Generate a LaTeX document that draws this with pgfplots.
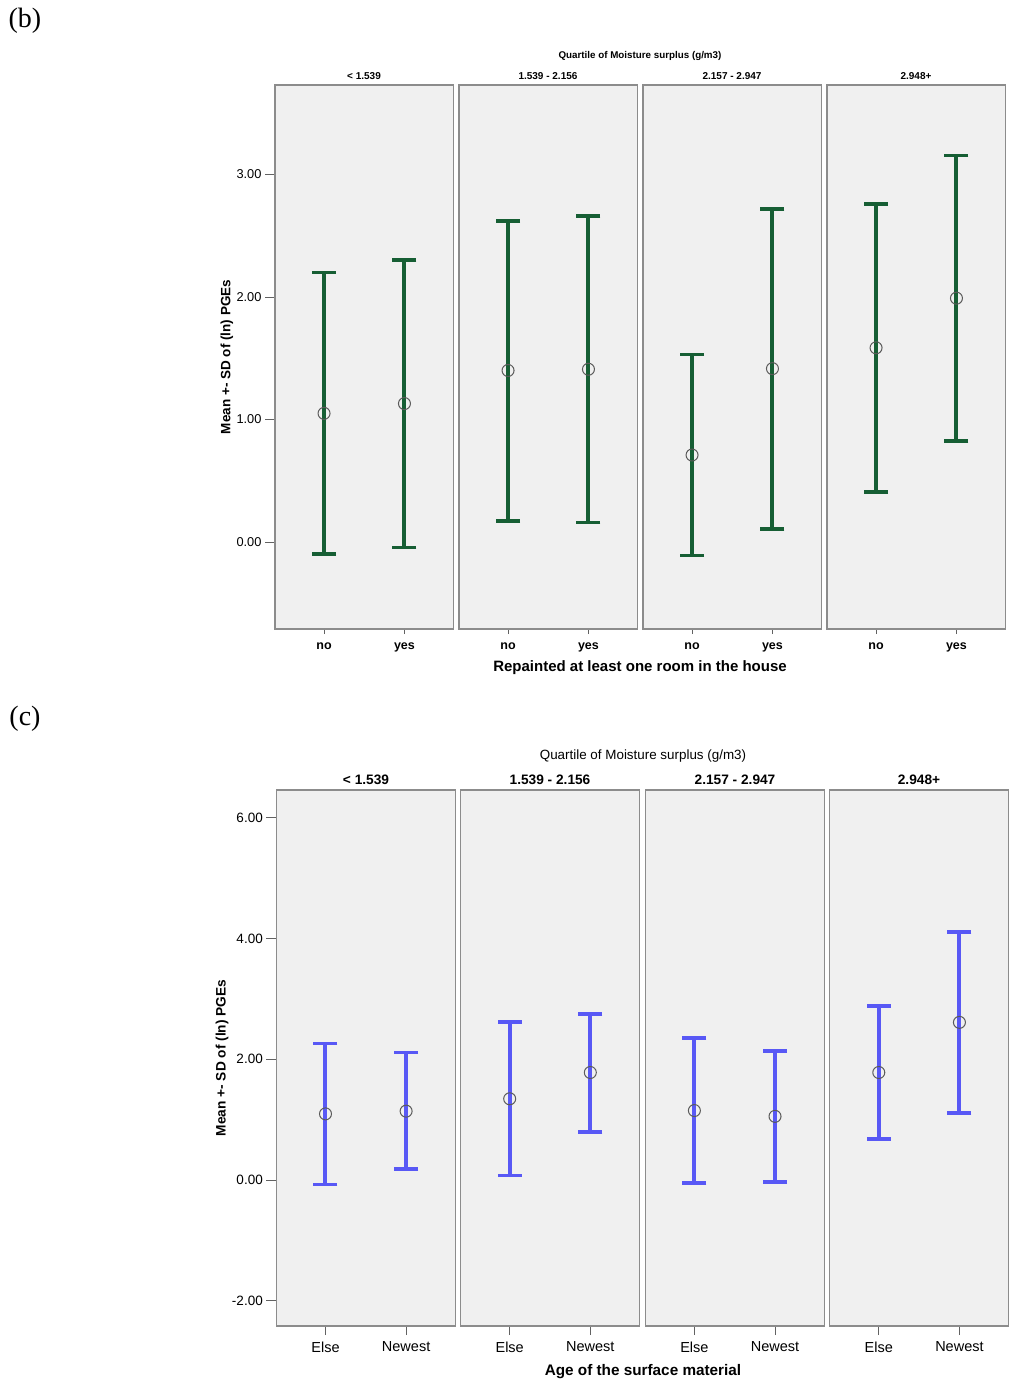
\documentclass[border=0pt]{standalone}
\usepackage{pgfplots}
\pgfplotsset{compat=1.18}
\usepackage{pgfplotstable}
\usepackage{fontspec}
\setmainfont{Liberation Sans}
\newfontfamily\seriffont{Liberation Serif}
\definecolor{gc}{RGB}{22,94,52}
\definecolor{bc}{RGB}{88,88,245}
\definecolor{bgc}{RGB}{240,240,240}
\definecolor{fc}{RGB}{140,140,140}
\definecolor{cc}{RGB}{90,90,90}

% panel (b): x mean lower upper
\pgfplotstableread{
x y lo hi
0 1.05 -0.097 2.20
1 1.13 -0.045 2.30
}\bA
\pgfplotstableread{
x y lo hi
0 1.40 0.17 2.62
1 1.41 0.16 2.66
}\bB
\pgfplotstableread{
x y lo hi
0 0.71 -0.11 1.53
1 1.415 0.106 2.72
}\bC
\pgfplotstableread{
x y lo hi
0 1.585 0.41 2.76
1 1.99 0.826 3.155
}\bD
% panel (c)
\pgfplotstableread{
x y lo hi
0 1.095 -0.074 2.26
1 1.14 0.18 2.11
}\cA
\pgfplotstableread{
x y lo hi
0 1.345 0.074 2.61
1 1.78 0.80 2.75
}\cB
\pgfplotstableread{
x y lo hi
0 1.15 -0.054 2.35
1 1.054 -0.034 2.14
}\cC
\pgfplotstableread{
x y lo hi
0 1.78 0.68 2.88
1 2.61 1.11 4.11
}\cD

\pgfplotsset{
  facet/.style={scale only axis, xmin=-0.61, xmax=1.61, xtick={0,1},
    axis background/.style={fill=bgc},
    axis line style={draw=fc, line width=1.3pt},
    tick align=outside, xtick pos=bottom, ytick pos=left,
    tick style={draw=fc!70!black, line width=0.9pt},
    major tick length=10pt, clip=false,
    yticklabel style={/pgf/number format/fixed, /pgf/number format/fixed zerofill,
      /pgf/number format/precision=2, /pgf/number format/assume math mode=true}},
  facetb/.style={facet, width=178.5pt, height=544pt, ymin=-0.71, ymax=3.73,
    xticklabels={no,yes},
    x tick label style={font=\bfseries\fontsize{12.5}{14}\selectfont},
    y tick label style={font=\fontsize{12.8}{14}\selectfont},
    xtick style={/pgfplots/major tick length=5pt}},
  facetc/.style={facet, width=179pt, height=536pt, ymin=-2.417, ymax=6.457,
    xticklabels={Else,Newest},
    x tick label style={font=\fontsize{14.5}{16}\selectfont, yshift=-2pt},
    y tick label style={font=\fontsize{13.5}{15}\selectfont},
    xtick style={/pgfplots/major tick length=9pt}},
}

\newcommand{\panel}[2]{%
  \addplot[draw=none, mark=none, error bars/.cd, y dir=both, y explicit, error mark=none,
    error bar style={line width=4pt, draw=#2, solid}]
    table[x=x, y=y, y error plus expr=\thisrow{hi}-\thisrow{y}, y error minus expr=\thisrow{y}-\thisrow{lo}] {#1};
  \addplot[only marks, mark=-, mark size=12pt, mark options={line width=3.8pt, draw=#2}] table[x=x,y=hi]{#1};
  \addplot[only marks, mark=-, mark size=12pt, mark options={line width=3.8pt, draw=#2}] table[x=x,y=lo]{#1};
  \addplot[only marks, mark=o, mark size=6pt, mark options={draw=cc, fill=none, line width=1pt}] table[x=x,y=y]{#1};
}

\begin{document}
\begin{tikzpicture}
\useasboundingbox (0,0) rectangle (1024pt,-1389pt);

% ---------- panel (b)
\begin{axis}[facetb, at={(275pt,-629pt)}, anchor=south west, ytick={0,1,2,3}]
\panel{\bA}{gc}
\end{axis}
\begin{axis}[facetb, at={(459pt,-629pt)}, anchor=south west, ytick=\empty]
\panel{\bB}{gc}
\end{axis}
\begin{axis}[facetb, at={(643pt,-629pt)}, anchor=south west, ytick=\empty]
\panel{\bC}{gc}
\end{axis}
\begin{axis}[facetb, at={(827pt,-629pt)}, anchor=south west, ytick=\empty]
\panel{\bD}{gc}
\end{axis}

% ---------- panel (c)
\begin{axis}[facetc, at={(276.3pt,-1326pt)}, anchor=south west, ytick={-2,0,2,4,6}]
\panel{\cA}{bc}
\end{axis}
\begin{axis}[facetc, at={(460.5pt,-1326pt)}, anchor=south west, ytick=\empty]
\panel{\cB}{bc}
\end{axis}
\begin{axis}[facetc, at={(645.2pt,-1326pt)}, anchor=south west, ytick=\empty]
\panel{\cC}{bc}
\end{axis}
\begin{axis}[facetc, at={(829.6pt,-1326pt)}, anchor=south west, ytick=\empty]
\panel{\cD}{bc}
\end{axis}

% ---------- texts
\node[font=\seriffont\fontsize{28}{30}\selectfont] at (25pt,-21pt) {(b)};
\node[font=\seriffont\fontsize{28}{30}\selectfont] at (25pt,-719pt) {(c)};

\node[font=\bfseries\fontsize{9.8}{11}\selectfont] at (640pt,-56pt) {Quartile of Moisture surplus (g/m3)};
\foreach \cx/\t in {364/{< 1.539}, 548/{1.539 - 2.156}, 732/{2.157 - 2.947}, 916/{2.948+}}
  \node[font=\bfseries\fontsize{10}{11}\selectfont] at (\cx pt,-76pt) {\t};
\node[font=\bfseries\fontsize{15}{17}\selectfont] at (640pt,-668pt) {Repainted at least one room in the house};
\node[font=\bfseries\fontsize{13.5}{15}\selectfont, rotate=90] at (227pt,-357pt) {Mean +- SD of (ln) PGEs};

\node[font=\fontsize{13.4}{15}\selectfont] at (643pt,-756pt) {Quartile of Moisture surplus (g/m3)};
\foreach \cx/\t in {366/{< 1.539}, 550/{1.539 - 2.156}, 735/{2.157 - 2.947}, 919/{2.948+}}
  \node[font=\bfseries\fontsize{13.7}{15}\selectfont] at (\cx pt,-780pt) {\t};
\node[font=\bfseries\fontsize{15.3}{17}\selectfont] at (643pt,-1372pt) {Age of the surface material};
\node[font=\bfseries\fontsize{13.7}{15}\selectfont, rotate=90] at (222pt,-1058pt) {Mean +- SD of (ln) PGEs};
\end{tikzpicture}
\end{document}
